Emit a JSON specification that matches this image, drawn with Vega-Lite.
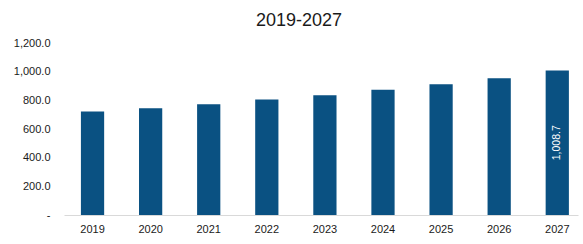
{
  "$schema": "https://vega.github.io/schema/vega-lite/v6.json",
  "autosize": {"type": "none"},
  "width": 514,
  "height": 172,
  "padding": {"left": 64, "top": 43, "right": 5, "bottom": 29},
  "background": "white",
  "title": {
    "text": "2019-2027",
    "anchor": "middle",
    "frame": "group",
    "dx": -22,
    "offset": 7,
    "font": "Liberation Sans",
    "fontSize": 18,
    "fontWeight": "normal",
    "color": "#1a1a1a"
  },
  "data": {
    "values": [
      {"year": "2019", "value": 722},
      {"year": "2020", "value": 745},
      {"year": "2021", "value": 773},
      {"year": "2022", "value": 805},
      {"year": "2023", "value": 836},
      {"year": "2024", "value": 873},
      {"year": "2025", "value": 912},
      {"year": "2026", "value": 954},
      {"year": "2027", "value": 1008.7}
    ]
  },
  "config": {
    "view": {"stroke": null},
    "font": "Liberation Sans",
    "axisY": {"labelOverlap": false}
  },
  "encoding": {
    "x": {
      "field": "year",
      "type": "ordinal",
      "scale": {"paddingInner": 0.6, "paddingOuter": 0.224, "align": 0.65},
      "axis": {
        "title": null,
        "labelAngle": 0,
        "labelFontSize": 11,
        "labelColor": "#1a1a1a",
        "labelPadding": 8,
        "ticks": false,
        "domainColor": "#d9d9d9",
        "domainWidth": 1,
        "grid": false
      }
    }
  },
  "layer": [
    {
      "mark": {"type": "bar", "color": "#0a5182"},
      "encoding": {
        "y": {
          "field": "value",
          "type": "quantitative",
          "scale": {"domain": [0, 1200]},
          "axis": {
            "title": null,
            "values": [0, 200, 400, 600, 800, 1000, 1200],
            "labelExpr": "datum.value == 0 ? '-' : format(datum.value, ',.1f')",
            "labelOverlap": false,
            "labelFontSize": 11,
            "labelColor": "#1a1a1a",
            "labelPadding": 14,
            "ticks": false,
            "domain": false,
            "grid": false
          }
        }
      }
    },
    {
      "transform": [
        {"filter": "datum.year == '2027'"},
        {"calculate": "datum.value / 2", "as": "mid"}
      ],
      "mark": {
        "type": "text",
        "angle": 270,
        "align": "center",
        "baseline": "middle",
        "color": "white",
        "fontSize": 10.5
      },
      "encoding": {
        "y": {
          "field": "mid",
          "type": "quantitative",
          "scale": {"domain": [0, 1200]},
          "axis": {
            "title": null,
            "values": [0, 200, 400, 600, 800, 1000, 1200],
            "labelExpr": "datum.value == 0 ? '-' : format(datum.value, ',.1f')",
            "labelOverlap": false,
            "labelFontSize": 11,
            "labelColor": "#1a1a1a",
            "labelPadding": 14,
            "ticks": false,
            "domain": false,
            "grid": false
          }
        },
        "text": {"field": "value", "type": "quantitative", "format": ",.1f"}
      }
    }
  ]
}
